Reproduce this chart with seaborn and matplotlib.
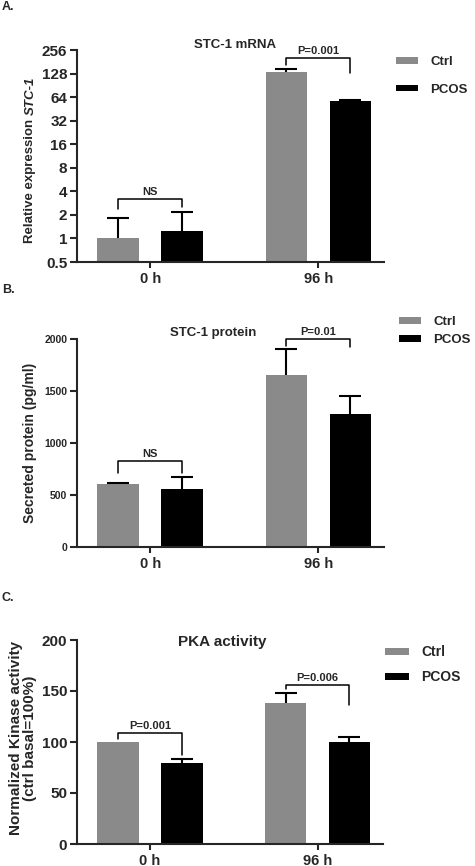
import matplotlib
matplotlib.use("Agg")
import matplotlib.pyplot as plt
import numpy as np
import pandas as pd
import seaborn as sns

times = ["0 h", "96 h"]
groups = ["Ctrl", "PCOS"]

# A. STC-1 mRNA, relative expression (log2 axis)
mrna_ctrl = [1.0, 135]
mrna_pcos = [1.23, 57.5]
mrna_ctrl_err = [0.8, 12]
mrna_pcos_err = [0.97, 1.5]
mrna_ticks = [0.5, 1, 2, 4, 8, 16, 32, 64, 128, 256]
mrna_ticklabels = ["0.5", "1", "2", "4", "8", "16", "32", "64", "128", "256"]

# B. secreted STC-1 protein (pg/ml)
prot_ctrl = [602, 1655]
prot_pcos = [557, 1280]
prot_ctrl_err = [15, 245]
prot_pcos_err = [112, 172]
prot_ticks = [0, 500, 1000, 1500, 2000]

# C. PKA activity (% of ctrl basal)
pka_ctrl = [100, 138]
pka_pcos = [79, 100]
pka_ctrl_err = [0, 10]
pka_pcos_err = [4, 5]
pka_ticks = [0, 50, 100, 150, 200]

# significance brackets: (time index, label, top, left end, right end)
mrna_sig = [(0, "NS", 3.2, 2.4, 2.55), (1, "P=0.001", 204, 166, 131)]
prot_sig = [(0, "NS", 828, 713, 713), (1, "P=0.01", 1997, 1933, 1924)]
pka_sig = [(0, "P=0.001", 109, 103, 87), (1, "P=0.006", 156, 152, 136)]

sns.set_style("ticks")
plt.rcParams['font.family'] = ['Liberation Sans', 'DejaVu Sans']
plt.rcParams['font.weight'] = 'bold'
plt.rcParams['axes.labelweight'] = 'bold'

colors = {"Ctrl": "#8a8a8a", "PCOS": "#000000"}

W, H = 475, 866
fig = plt.figure(figsize=(W / 100, H / 100), dpi=100)


def px_axes(left, top, right, bottom):
    return fig.add_axes([left / W, 1 - bottom / H, (right - left) / W, (bottom - top) / H])


def draw_panel(ax, ctrl, pcos, ctrl_err, pcos_err, sig, tick_size, log=False):
    df = pd.DataFrame({
        "time": times * 2,
        "group": [groups[0]] * 2 + [groups[1]] * 2,
        "value": list(ctrl) + list(pcos),
    })
    sns.barplot(data=df, x="time", y="value", hue="group", palette=colors,
                width=0.76, gap=0.35, errorbar=None, legend=False,
                saturation=1, linewidth=0, ax=ax)
    if log:
        ax.set_yscale("log", base=2)
    # upward-only error bars with a single cap
    for cont, errs in zip(ax.containers, [ctrl_err, pcos_err]):
        for bar, e in zip(cont.patches, errs):
            xc = bar.get_x() + bar.get_width() / 2
            h = bar.get_height()
            if e <= 0:
                continue
            ax.plot([xc, xc], [h, h + e], color="black", lw=1.5,
                    solid_capstyle="butt", clip_on=False, zorder=3)
            ax.plot([xc], [h + e], marker="_", markersize=16.5, mew=1.5,
                    color="black", clip_on=False, zorder=3)
    for i, label, top, yl, yr in sig:
        b1 = ax.containers[0].patches[i]
        b2 = ax.containers[1].patches[i]
        x1 = b1.get_x() + b1.get_width() / 2
        x2 = b2.get_x() + b2.get_width() / 2
        ax.plot([x1, x1, x2, x2], [yl, top, top, yr], color="black", lw=1.1,
                clip_on=False, zorder=4)
        ax.annotate(label, xy=((x1 + x2) / 2, top), xytext=(0, 1.5),
                    textcoords="offset points", ha="center", va="bottom",
                    fontsize=8, fontweight="bold", annotation_clip=False)
    ax.set_xlim(-0.435, 1.39)
    ax.set_xlabel("")
    ax.set_ylabel("")
    sns.despine(ax=ax)
    for s in ["left", "bottom"]:
        ax.spines[s].set_linewidth(1.5)
    ax.tick_params(axis="y", direction="out", length=5, width=1.5,
                   labelsize=tick_size, pad=2)
    ax.tick_params(axis="x", direction="out", length=4, width=1.5,
                   labelsize=10.5, pad=3)
    ax.minorticks_off()
    for t in ax.get_xticklabels() + ax.get_yticklabels():
        t.set_fontweight("bold")


def add_legend(ax, x, y, spacing, size):
    handles = [ax.containers[0].patches[0], ax.containers[1].patches[0]]
    ax.legend(handles, groups, loc="upper left", bbox_to_anchor=(x / W, 1 - y / H),
              bbox_transform=fig.transFigure, frameon=False, borderpad=0,
              borderaxespad=0, handlelength=1.7, handleheight=0.4,
              handletextpad=0.9, labelspacing=spacing,
              prop={"weight": "bold", "size": size})


# ---- A ----
axA = px_axes(77, 50, 384, 262)
draw_panel(axA, mrna_ctrl, mrna_pcos, mrna_ctrl_err, mrna_pcos_err, mrna_sig, 11)
axA.set_yscale("log", base=2)
axA.set_ylim(0.5, 256)
axA.set_yticks(mrna_ticks)
axA.set_yticklabels(mrna_ticklabels, fontweight="bold")
axA.minorticks_off()
axA.text(0.515, 1.025, "STC-1 mRNA", transform=axA.transAxes, ha="center",
         va="center", fontsize=9.5, fontweight="bold")
add_legend(axA, 396, 56, 1.2, 9.5)

# ---- B ----
axB = px_axes(77, 339, 384, 547)
draw_panel(axB, prot_ctrl, prot_pcos, prot_ctrl_err, prot_pcos_err, prot_sig, 7.5)
axB.set_ylim(0, 2000)
axB.set_yticks(prot_ticks)
axB.set_yticklabels([str(t) for t in prot_ticks], fontweight="bold")
axB.text(0.445, 1.03, "STC-1 protein", transform=axB.transAxes, ha="center",
         va="center", fontsize=9.5, fontweight="bold")
axB.set_ylabel("Secreted protein (pg/ml)", fontsize=10, fontweight="bold")
axB.yaxis.set_label_coords(-0.13, 0.5)
add_legend(axB, 399, 316, 0.45, 9.5)

# ---- C ----
axC = px_axes(77, 640, 383, 844)
draw_panel(axC, pka_ctrl, pka_pcos, pka_ctrl_err, pka_pcos_err, pka_sig, 11)
axC.set_ylim(0, 200)
axC.set_yticks(pka_ticks)
axC.set_yticklabels([str(t) for t in pka_ticks], fontweight="bold")
axC.text(0.475, 0.99, "PKA activity", transform=axC.transAxes, ha="center",
         va="center", fontsize=11, fontweight="bold")
axC.set_ylabel("Normalized Kinase activity\n(ctrl basal=100%)", fontsize=11,
               fontweight="bold", linespacing=1.0)
axC.yaxis.set_label_coords(-0.13, 0.52)
add_legend(axC, 385, 645, 0.8, 10)

# panel letters
for letter, ytop in [("A.", 7), ("B.", 290), ("C.", 598)]:
    fig.text(2 / W, 1 - ytop / H, letter, ha="left", va="center", fontsize=9,
             fontweight="bold")

# A y label: plain part + italic gene name
t1 = fig.text(30.5 / W, 1 - 243 / H, "Relative expression ", rotation=90,
              ha="center", va="bottom", fontsize=9.5, fontweight="bold")
fig.canvas.draw()
bb = t1.get_window_extent()
fig.text(30.5 / W, bb.y1 / fig.bbox.height, "STC-1", rotation=90, ha="center",
         va="bottom", fontsize=9.5, fontweight="bold", style="italic")

fig.savefig("out.png", dpi=100)
